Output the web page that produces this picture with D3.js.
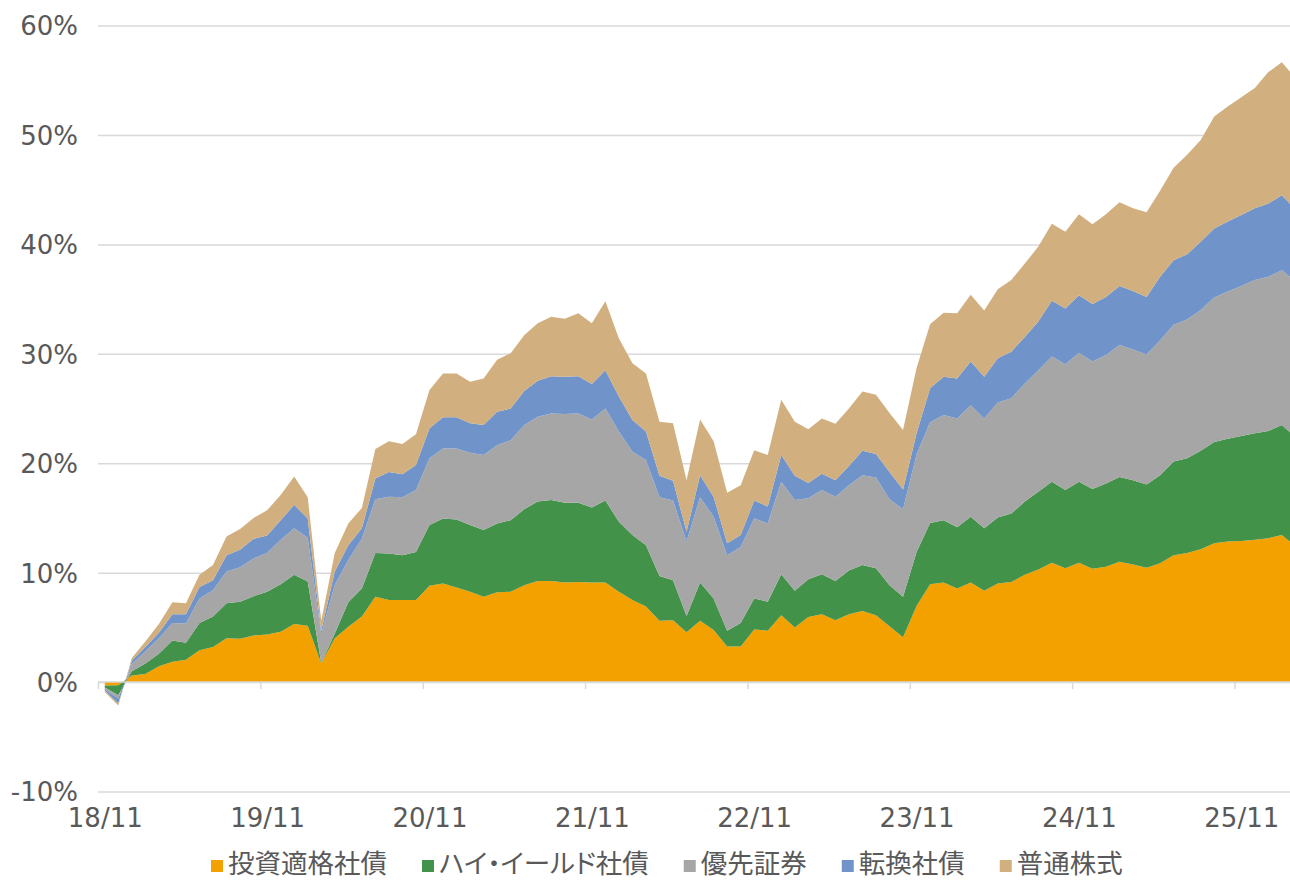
<!DOCTYPE html>
<html>
<head>
<meta charset="utf-8">
<script src="https://cdn.jsdelivr.net/npm/d3@7"></script>
<style>
  body { margin: 0; background: #fff; }
  svg { display: block; font-family: "Noto Sans CJK JP", "Noto Sans", sans-serif; }
  .num { font-family: "DejaVu Sans", "Noto Sans", sans-serif; }
</style>
</head>
<body>
<svg id="chart" width="1290" height="881"></svg>
<script>
// monthly categories, 18/11 .. 26/03
const months = d3.timeMonth.range(new Date(2018, 10, 1), new Date(2026, 3, 1));
const tickLabels = ["18/11", "19/11", "20/11", "21/11", "22/11", "23/11", "24/11", "25/11"];
const yTicks = [-10, 0, 10, 20, 30, 40, 50, 60];

const seriesNames = ["投資適格社債", "ハイ・イールド社債", "優先証券", "転換社債", "普通株式"];
const seriesColors = ["#F2A100", "#42924A", "#A6A6A6", "#7094CA", "#D1AF7F"];

// contribution of each asset class (%), one value per month
const investmentGrade = [-0.33,-0.30,0.60,0.75,1.45,1.85,2.05,2.90,3.20,4.00,3.95,4.25,4.35,4.60,5.30,5.15,1.70,4.00,5.05,6.00,
  7.80,7.50,7.50,7.50,8.80,9.00,8.65,8.25,7.80,8.20,8.25,8.85,9.25,9.25,9.10,9.15,9.10,9.10,8.25,7.50,
  6.90,5.60,5.65,4.55,5.60,4.75,3.25,3.25,4.80,4.70,6.10,5.00,5.95,6.20,5.65,6.20,6.50,6.10,5.10,4.10,
  6.95,8.95,9.10,8.55,9.10,8.35,9.00,9.15,9.80,10.30,10.90,10.40,10.90,10.35,10.55,11.00,10.75,10.45,10.85,11.60,
  11.80,12.15,12.70,12.85,12.90,13.00,13.15,13.45,12.40];
const highYield = [-0.17,-0.90,0.40,0.95,1.15,1.95,1.55,2.50,2.80,3.20,3.40,3.60,3.90,4.35,4.50,4.05,0.05,0.45,2.25,2.55,
  4.00,4.25,4.10,4.40,5.55,5.95,6.20,6.10,6.10,6.30,6.55,6.95,7.25,7.40,7.30,7.25,6.85,7.50,6.40,5.95,
  5.60,4.10,3.65,1.50,3.50,2.90,1.45,2.15,2.85,2.65,3.75,3.35,3.45,3.65,3.60,4.00,4.20,4.30,3.75,3.70,
  4.95,5.60,5.70,5.60,6.00,5.70,6.05,6.25,6.70,7.10,7.40,7.15,7.40,7.30,7.60,7.75,7.70,7.60,8.05,8.55,
  8.65,9.00,9.25,9.40,9.60,9.75,9.80,10.05,10.00];
const preferred = [-0.18,-0.30,0.65,1.10,1.40,1.60,1.75,2.25,2.40,2.90,3.15,3.45,3.55,4.05,4.25,4.00,2.65,4.45,3.85,4.55,
  4.90,5.20,5.30,5.65,6.10,6.40,6.50,6.60,6.85,7.15,7.30,7.70,7.75,7.90,8.10,8.15,8.05,8.40,8.25,7.60,
  7.80,7.20,7.30,6.80,7.80,7.45,6.90,6.95,7.30,7.15,8.45,8.30,7.40,7.70,7.70,7.80,8.20,8.30,7.85,8.00,
  8.90,9.20,9.60,9.95,10.20,10.05,10.50,10.55,10.80,11.10,11.45,11.50,11.80,11.65,11.75,12.05,11.95,11.90,12.35,12.50,
  12.70,12.85,13.20,13.45,13.70,14.00,14.10,14.15,14.20];
const convertible = [-0.12,-0.45,0.30,0.40,0.50,0.80,0.85,1.05,0.90,1.50,1.60,1.80,1.60,1.80,2.15,1.75,0.30,1.20,1.35,0.95,
  1.90,2.25,2.10,2.30,2.75,2.85,2.85,2.70,2.75,3.05,2.90,3.10,3.30,3.40,3.40,3.40,3.25,3.50,3.20,2.90,
  2.60,1.95,1.80,0.90,2.00,1.85,1.10,1.10,1.65,1.55,2.45,2.20,1.40,1.50,1.50,1.75,2.25,2.15,2.50,1.80,
  1.95,3.10,3.50,3.65,4.00,3.80,4.05,4.25,4.25,4.45,5.10,5.10,5.25,5.25,5.30,5.40,5.35,5.25,5.80,5.90,
  5.95,6.25,6.30,6.40,6.50,6.55,6.70,6.85,6.60];
const equity = [-0.10,-0.20,0.25,0.50,0.80,1.10,1.00,1.10,1.40,1.70,1.90,1.90,2.30,2.30,2.60,1.95,0.90,1.70,2.00,1.85,
  2.70,2.80,2.75,2.80,3.50,4.00,4.00,3.80,4.25,4.75,5.05,5.10,5.25,5.45,5.30,5.75,5.55,6.30,5.30,5.20,
  5.30,4.95,5.25,4.70,5.10,5.05,4.60,4.55,4.60,4.70,5.05,4.95,4.90,5.05,5.15,5.25,5.40,5.40,5.40,5.45,
  5.95,5.85,5.85,5.95,6.10,6.05,6.30,6.55,6.70,6.85,7.05,7.00,7.40,7.30,7.55,7.65,7.55,7.75,7.85,8.45,
  9.10,9.30,10.25,10.50,10.75,11.00,12.00,12.15,12.00];

const seriesValues = [investmentGrade, highYield, preferred, convertible, equity];

const rows = months.map((m, i) => {
  const r = { date: m };
  seriesNames.forEach((n, k) => { r[n] = seriesValues[k][i]; });
  return r;
});

const svg = d3.select("#chart");
const left = 98, step = 13.53;
const right = left + step * months.length;
const x = d3.scalePoint()
  .domain(months)
  .range([left, right])
  .padding(0.5);
const y = d3.scaleLinear().domain([-10, 60]).range([791.5, 25.6]);

// gridlines + y labels
const yAxis = svg.append("g")
  .attr("transform", `translate(${left},0)`)
  .call(d3.axisLeft(y).tickValues(yTicks).tickSize(-(right - left)).tickPadding(20).tickFormat(d => d + "%"));
yAxis.select(".domain").remove();
yAxis.selectAll(".tick line").attr("stroke", "#D9D9D9").attr("stroke-width", 1.5);
yAxis.selectAll(".tick text")
  .attr("class", "num")
  .attr("fill", "#595959")
  .attr("dy", "0.36em")
  .style("font-size", "26px");

// stacked areas
const stack = d3.stack().keys(seriesNames).offset(d3.stackOffsetNone);
const layers = stack(rows);
const area = d3.area()
  .x(d => x(d.data.date))
  .y0(d => y(d[0]))
  .y1(d => y(d[1]));

svg.append("g").selectAll("path")
  .data(layers)
  .join("path")
  .attr("fill", (d, i) => seriesColors[i])
  .attr("d", area);

// category axis on zero line
const fmt = d3.timeFormat("%y/%m");
const tickDates = months.filter(m => tickLabels.includes(fmt(m)));
const xAxis = svg.append("g")
  .attr("transform", `translate(0,${y(0)})`)
  .call(d3.axisBottom(x).tickValues(tickDates).tickFormat(fmt).tickSize(0).tickSizeOuter(0));
xAxis.select(".domain").attr("stroke", "#D9D9D9").attr("stroke-width", 1.5)
  .attr("d", `M${left},0H${right}`);
xAxis.selectAll(".tick line").remove();
xAxis.selectAll(".tick text")
  .attr("class", "num")
  .attr("fill", "#595959")
  .style("font-size", "26px")
  .attr("dy", 0)
  .attr("y", y(-10) - y(0) + 36);
// tick marks sit between categories
xAxis.selectAll(".tick").append("line")
  .attr("x1", -step / 2).attr("x2", -step / 2)
  .attr("y1", 0).attr("y2", 7)
  .attr("stroke", "#D9D9D9").attr("stroke-width", 1.5);

// legend
const legend = svg.append("g").attr("transform", "translate(211,866)");
let lx = 0;
seriesNames.forEach((name, i) => {
  const g = legend.append("g").attr("transform", `translate(${lx},0)`);
  g.append("rect").attr("x", 0).attr("y", -6).attr("width", 12).attr("height", 12).attr("fill", seriesColors[i]);
  const t = g.append("text").attr("x", 17).attr("y", 7)
    .attr("fill", "#595959").style("font-size", "26.5px")
    .style("font-feature-settings", name.includes("・") ? "'palt'" : "normal")
    .text(name);
  lx += 17 + t.node().getComputedTextLength() + 35;
});
</script>
</body>
</html>
